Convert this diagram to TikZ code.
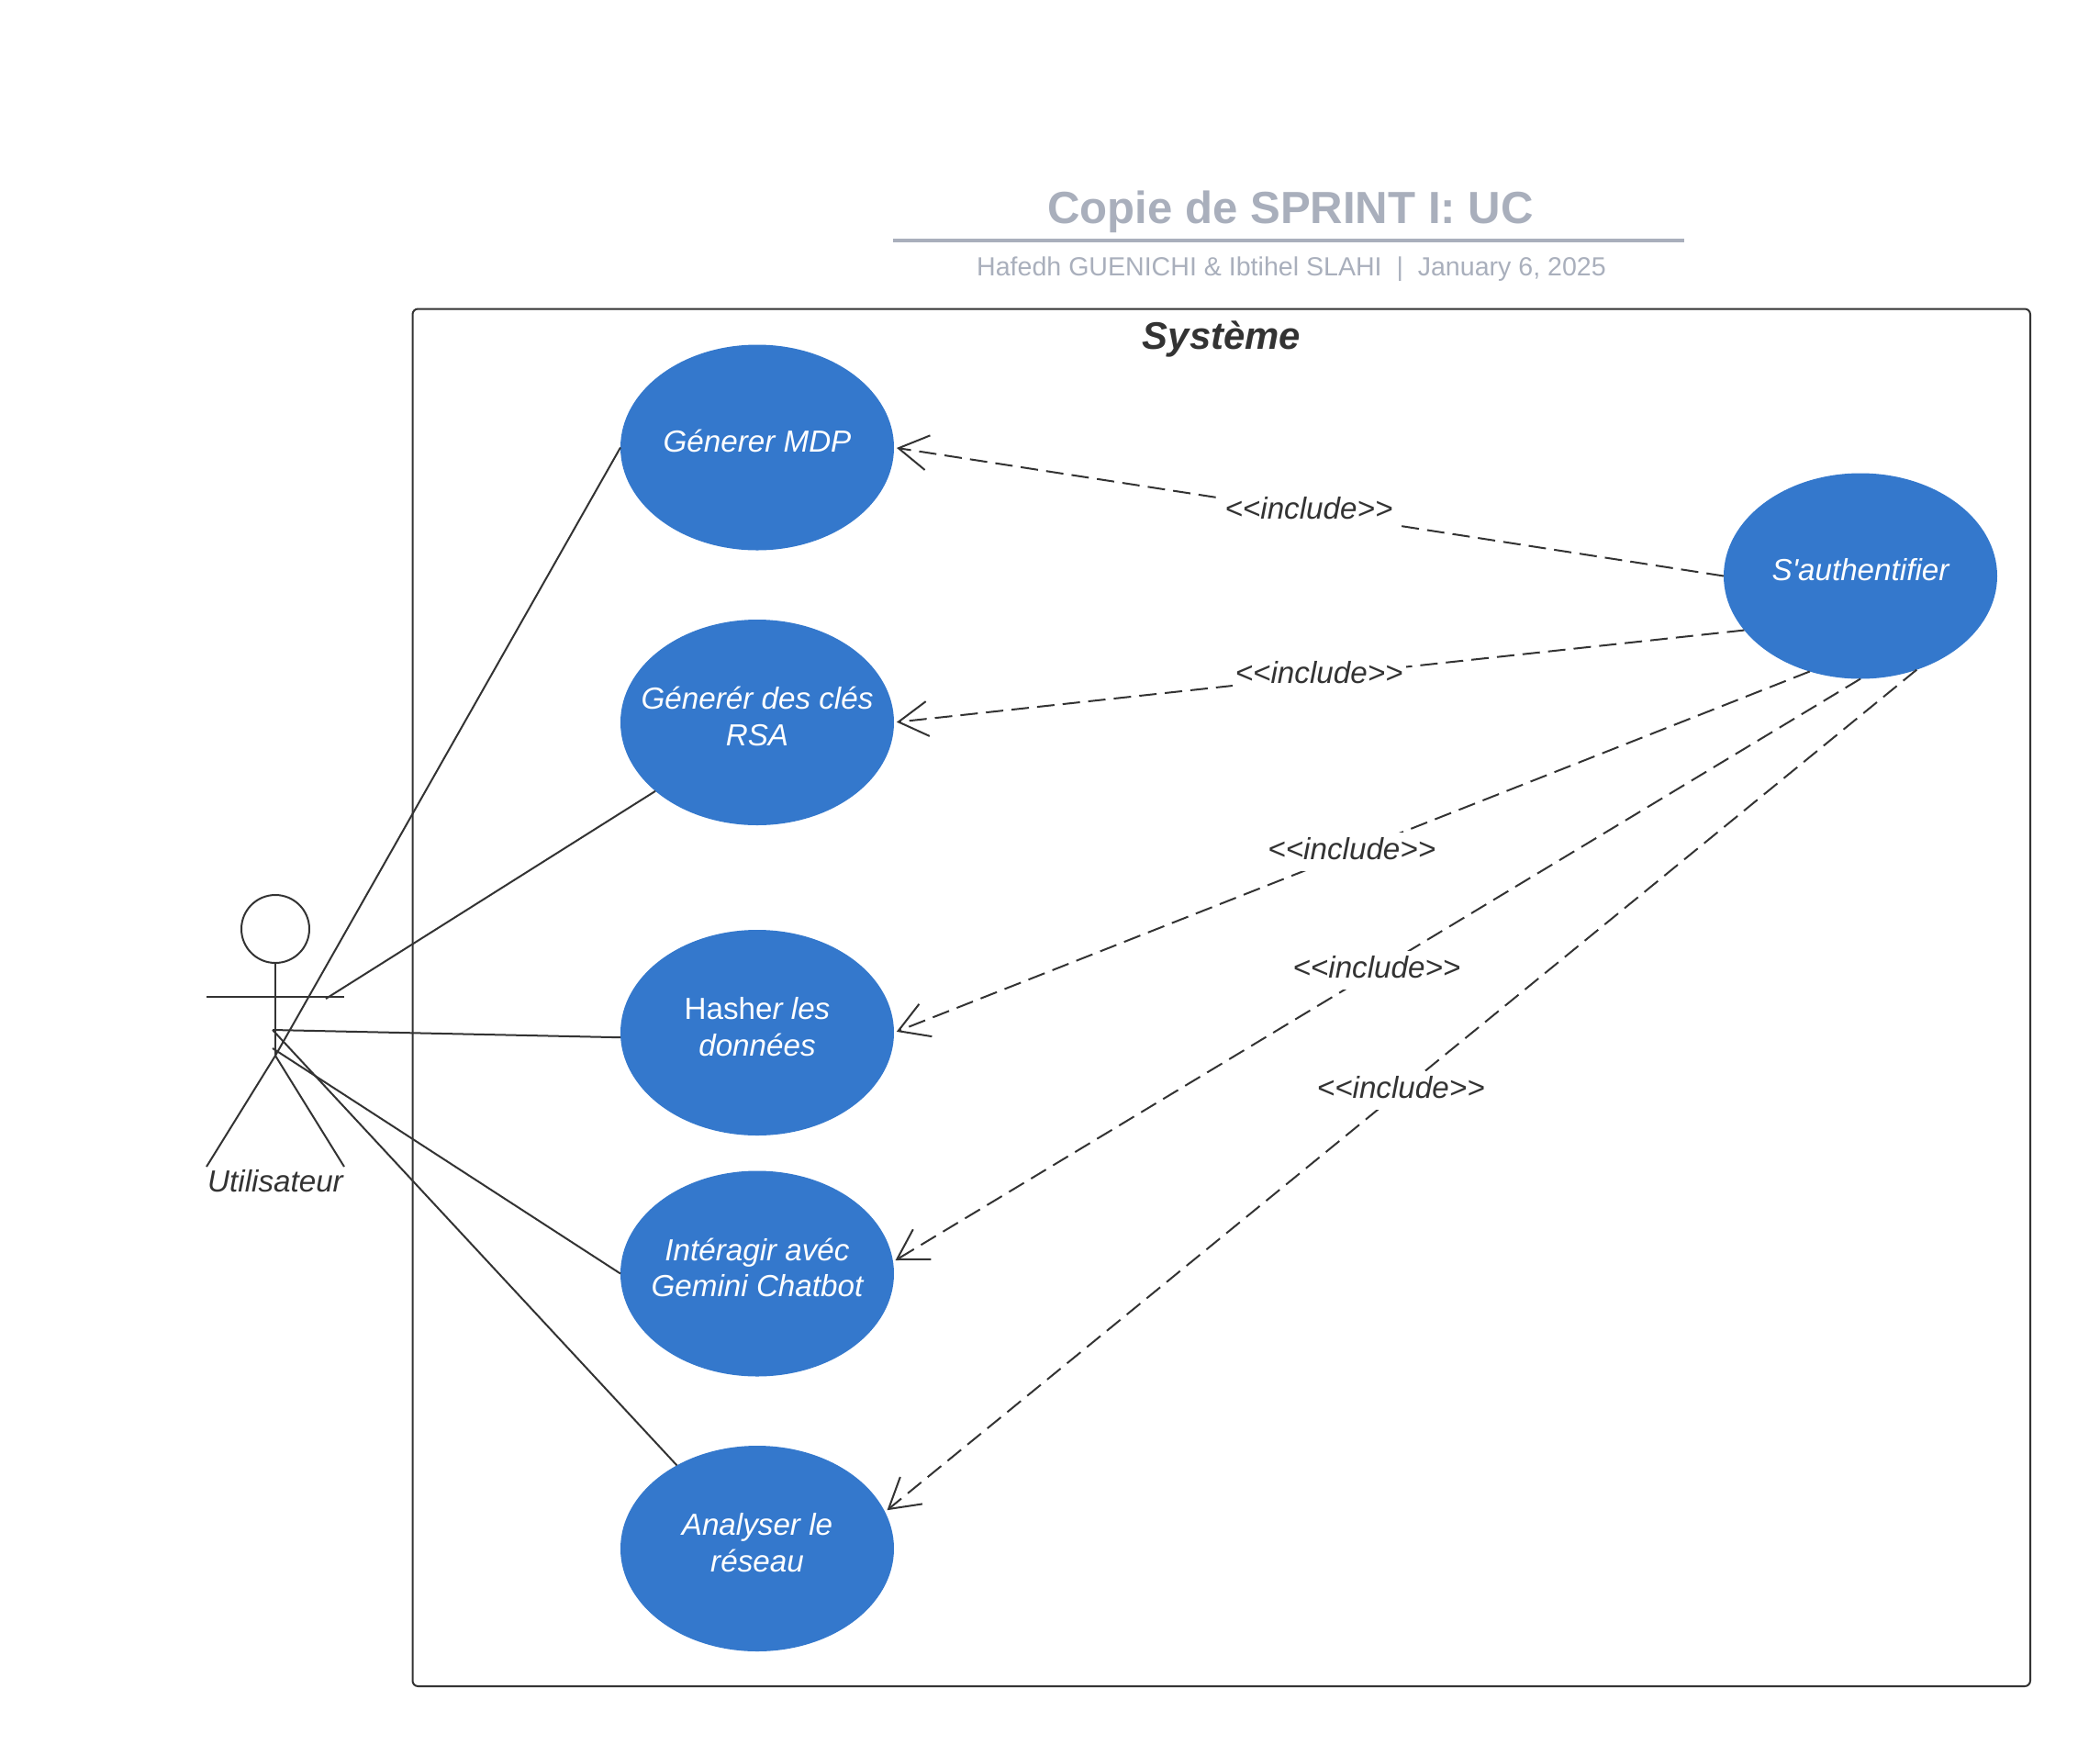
\documentclass[tikz,border=0pt]{standalone}
\usepackage{fontspec}
\setmainfont{Liberation Sans}
\usetikzlibrary{arrows.meta,shapes.geometric}
\definecolor{bleucas}{HTML}{3478CC}
\definecolor{encre}{HTML}{333333}
\definecolor{grisTitre}{HTML}{A9AFBC}
\tikzset{
  usecase/.style={ellipse,fill=bleucas,text=white,minimum width=2.98cm,minimum height=2.24cm,
    inner xsep=-0.4cm,inner ysep=0pt,outer sep=0pt,align=center,text depth=0.135cm,
    font=\fontsize{9.45}{11.38}\selectfont\itshape},
  inclabel/.style={fill=white,inner sep=0.03cm,text=encre,text height=0.26cm,text depth=0.10cm,
    font=\fontsize{9.45}{11.38}\selectfont\itshape},
  trait/.style={draw=encre,line width=0.02cm},
  include/.style={trait,dash pattern=on 0.19cm off 0.09cm,shorten >=0.03cm,
    -{Straight Barb[length=0.32cm,width=0.38cm]}}
}
\begin{document}
\begin{tikzpicture}
      \useasboundingbox (0,0) rectangle (22.88,-19.13);
      \draw[trait,rounded corners=0.06cm]
        (4.495,-3.365) rectangle (22.12,-18.37);
      \draw
        (14.06,-2.43) node[anchor=base,text=grisTitre,font=\fontsize{13.98}{16}\selectfont\bfseries] (titre){Copie de SPRINT I: UC}
        (14.07,-3.00) node[anchor=base,text=grisTitre,font=\fontsize{8.13}{10}\selectfont] (auteurs){Hafedh GUENICHI \& Ibtihel SLAHI~~|~~January 6, 2025}
        (13.31,-3.80) node[anchor=base,text=encre,font=\fontsize{11.9}{14}\selectfont\bfseries\itshape] (systeme){Système}
        (3.00,-12.98) node[anchor=base,text=encre,font=\fontsize{9.45}{11.38}\selectfont\itshape] (utilisateur){Utilisateur};
      \coordinate (ruleg) at (9.73,-2.62);
      \coordinate (ruled) at (18.35,-2.62);
      \draw[draw=grisTitre,line width=0.04cm] (ruleg) to (ruled);
      \draw
        (8.25,-4.875) node[usecase] (mdp){Génerer MDP}
        (8.25,-7.87) node[usecase] (cles){Génerér des clés\\RSA}
        (8.25,-11.25) node[usecase] (hasher){{\upshape Hashe}r les\\données}
        (8.25,-13.875) node[usecase] (gemini){Intéragir avéc\\Gemini Chatbot}
        (8.25,-16.87) node[usecase] (reseau){Analyser le\\réseau}
        (20.27,-6.275) node[usecase] (auth){S\textquotesingle authentifier};
      \draw[trait]
        (3.00,-10.12) node[circle,trait,minimum size=0.74cm,inner sep=0pt,outer sep=0pt] (tete){};
      \coordinate (brasg) at (2.25,-10.86);
      \coordinate (brasd) at (3.75,-10.86);
      \coordinate (bassin) at (3.00,-11.50);
      \coordinate (piedg) at (2.25,-12.71);
      \coordinate (piedd) at (3.75,-12.71);
      \coordinate (main) at (3.55,-10.88);
      \coordinate (taille) at (2.97,-11.22);
      \coordinate (hanche) at (2.97,-11.42);
      \begin{scope}[trait]
        \draw (tete) to (bassin);
        \draw (brasg) to (brasd);
        \draw (bassin) to (piedg);
        \draw (bassin) to (piedd);
        \draw (bassin) to (mdp.west);
        \draw (main) to (cles.214.4);
        \draw (taille) to (hasher.182);
        \draw (hanche) to (gemini.west);
        \draw (taille) to (reseau.134.5);
      \end{scope}
      \begin{scope}[include]
        \draw (auth.west) to node[inclabel] (inca){<{}<include>{}>} (mdp.east);
        \draw (auth.205.3) to node[inclabel] (incb){<{}<include>{}>} (cles.east);
        \draw (auth.242.8) to node[inclabel] (incc){<{}<include>{}>} (hasher.east);
        \draw (auth.south) to node[inclabel] (incd){<{}<include>{}>} (gemini.5.7);
        \draw (auth.301.7) to node[inclabel] (ince){<{}<include>{}>} (reseau.16.9);
      \end{scope}
    \end{tikzpicture}
\end{document}
